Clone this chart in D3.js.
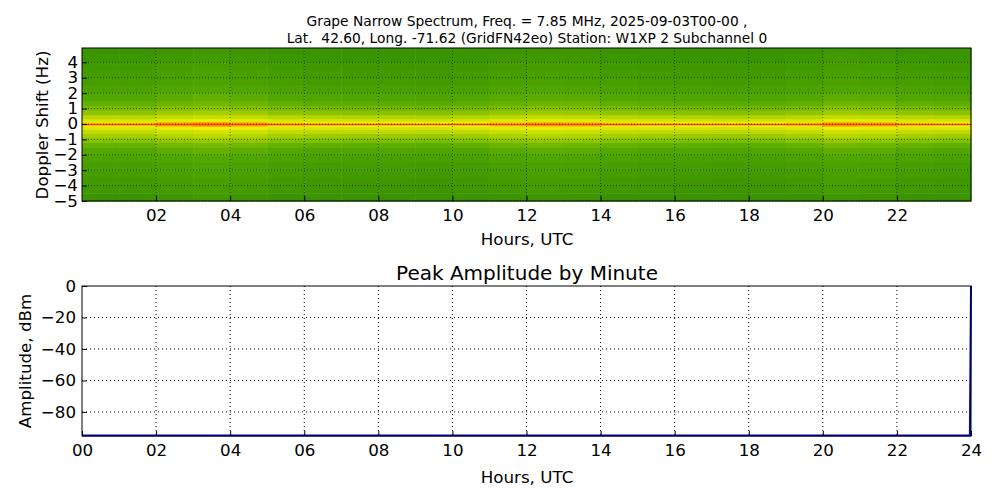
<!DOCTYPE html>
<html><head><meta charset="utf-8">
<script src="https://cdn.jsdelivr.net/npm/d3@7"></script>
<style>body{margin:0;background:#fff}text{font-family:"DejaVu Sans",sans-serif}</style>
</head><body><svg id="c" width="1000" height="500"></svg>
<script>
// Doppler bins: edges in Hz and relative level per bin
const dopplerEdges = [-5,-4.5,-4,-3.5,-3,-2.5,-2,-1.5,-1.2,-0.9,-0.6,-0.35,-0.15,-0.05,0.05,0.15,0.35,0.6,0.9,1.2,1.5,2,2.5,3,3.5,4,4.5,4.93];
const dopplerLevel = [0.30,0.32,0.33,0.34,0.35,0.37,0.40,0.44,0.50,0.56,0.63,0.72,0.82,0.97,0.82,0.70,0.60,0.52,0.47,0.43,0.40,0.37,0.35,0.34,0.33,0.31,0.30];
// hourly brightness factor of the band
const hourFactor = [1.0,1.0,1.05,1.08,1.05,1.0,0.98,0.97,0.97,0.96,0.98,1.02,1.05,1.04,1.0,0.98,0.97,0.96,0.97,1.0,1.06,1.04,1.0,0.98];
const spectroTicks = [2,4,6,8,10,12,14,16,18,20,22];
const dopplerTicks = [-5,-4,-3,-2,-1,0,1,2,3,4];
// peak amplitude trace (hours, dBm)
const ampHours = [0,6,12,18,23.97,24];
const ampValues = [-95,-95,-95,-95,-95,0];
const ampXTicks = [0,2,4,6,8,10,12,14,16,18,20,22,24];
const ampYTicks = [0,-20,-40,-60,-80];

const svg = d3.select("#c");
const L=82,R=971, FS=16.7;
const fmt=d=>String(d).padStart(2,"0");
// ---------- top spectrogram ----------
const x1=d3.scaleLinear().domain([0,24]).range([L,R]);
const y1=d3.scaleLinear().domain([-5,4.93]).range([201,48]);
const col=d3.scaleLinear().domain([0.3,0.4,0.6,0.8,1.0]).range(["#3a9400","#52a800","#b8d800","#f8f400","#ff2000"]).clamp(true);
const cells=[];
hourFactor.forEach((f,h)=>dopplerLevel.forEach((v,i)=>cells.push({h,lo:dopplerEdges[i],hi:dopplerEdges[i+1],v:i==13?v:Math.min(0.92,v*f)})));
svg.append("g").selectAll("rect").data(cells).join("rect")
 .attr("x",d=>x1(d.h)).attr("width",d=>x1(d.h+1)-x1(d.h)+0.5)
 .attr("y",d=>y1(d.hi)).attr("height",d=>y1(d.lo)-y1(d.hi)+0.5)
 .attr("fill",d=>col(d.v));
const g1=svg.append("g");
g1.selectAll(".gx").data(spectroTicks).join("line").attr("x1",d=>x1(d)).attr("x2",d=>x1(d)).attr("y1",48).attr("y2",201).attr("stroke","#000").attr("stroke-opacity",0.5).attr("stroke-dasharray","1,2");
g1.selectAll(".gy").data(dopplerTicks).join("line").attr("y1",d=>y1(d)).attr("y2",d=>y1(d)).attr("x1",L).attr("x2",R).attr("stroke","#000").attr("stroke-opacity",0.5).attr("stroke-dasharray","1,2");
svg.append("rect").attr("x",L).attr("y",48).attr("width",R-L).attr("height",153).attr("fill","none").attr("stroke","#000");
svg.append("g").attr("transform","translate(0,201)").call(d3.axisBottom(x1).tickValues(spectroTicks).tickFormat(fmt).tickSize(-5).tickPadding(8))
 .call(g=>{g.select(".domain").remove();g.selectAll("text").attr("font-size",FS).attr("font-family","DejaVu Sans");});
svg.append("g").attr("transform",`translate(${L},0)`).call(d3.axisLeft(y1).tickValues(dopplerTicks).tickSize(-5).tickPadding(4))
 .call(g=>{g.select(".domain").remove();g.selectAll("text").attr("font-size",FS).attr("font-family","DejaVu Sans").attr("dy","0.3em");});
svg.append("text").attr("x",527).attr("y",26).attr("text-anchor","middle").attr("font-size",13.8).text("Grape Narrow Spectrum, Freq. = 7.85 MHz, 2025-09-03T00-00 ,");
svg.append("text").attr("x",527).attr("y",43).attr("text-anchor","middle").attr("font-size",13.8).attr("xml:space","preserve").text("Lat.  42.60, Long. -71.62 (GridFN42eo) Station: W1XP 2 Subchannel 0");
svg.append("text").attr("x",527).attr("y",245).attr("text-anchor","middle").attr("font-size",FS).text("Hours, UTC");
svg.append("text").attr("transform","translate(48,125) rotate(-90)").attr("text-anchor","middle").attr("font-size",FS).text("Doppler Shift (Hz)");
// ---------- bottom amplitude ----------
const x2=d3.scaleLinear().domain([0,24]).range([L,R]);
const y2=d3.scaleLinear().domain([-95.3,0]).range([436,286]);
const g2=svg.append("g");
g2.selectAll(".gx").data(ampXTicks.slice(1,-1)).join("line").attr("x1",d=>x2(d)).attr("x2",d=>x2(d)).attr("y1",286).attr("y2",436).attr("stroke","#000").attr("stroke-dasharray","1,3");
g2.selectAll(".gy").data(ampYTicks.slice(1)).join("line").attr("y1",d=>y2(d)).attr("y2",d=>y2(d)).attr("x1",L).attr("x2",R).attr("stroke","#000").attr("stroke-dasharray","1,3");
svg.append("path").datum(ampHours.map((h,i)=>[h,ampValues[i]])).attr("fill","none").attr("stroke","#0000e0").attr("stroke-width",2)
 .attr("d",d3.line().x(d=>x2(d[0])).y(d=>y2(d[1])));
svg.append("rect").attr("x",L).attr("y",286).attr("width",R-L).attr("height",150).attr("fill","none").attr("stroke","#000");
svg.append("g").attr("transform","translate(0,436)").call(d3.axisBottom(x2).tickValues(ampXTicks).tickFormat(fmt).tickSize(-5).tickPadding(8))
 .call(g=>{g.select(".domain").remove();g.selectAll("text").attr("font-size",FS).attr("font-family","DejaVu Sans");});
svg.append("g").attr("transform",`translate(${L},0)`).call(d3.axisLeft(y2).tickValues(ampYTicks).tickFormat(d=>d<0?"\u2212"+(-d):d).tickSize(-5).tickPadding(6))
 .call(g=>{g.select(".domain").remove();g.selectAll("text").attr("font-size",FS).attr("font-family","DejaVu Sans");});
svg.append("text").attr("x",527).attr("y",280).attr("text-anchor","middle").attr("font-size",20).text("Peak Amplitude by Minute");
svg.append("text").attr("x",527).attr("y",483).attr("text-anchor","middle").attr("font-size",FS).text("Hours, UTC");
svg.append("text").attr("transform","translate(31,361) rotate(-90)").attr("text-anchor","middle").attr("font-size",FS).text("Amplitude, dBm");
</script></body></html>
